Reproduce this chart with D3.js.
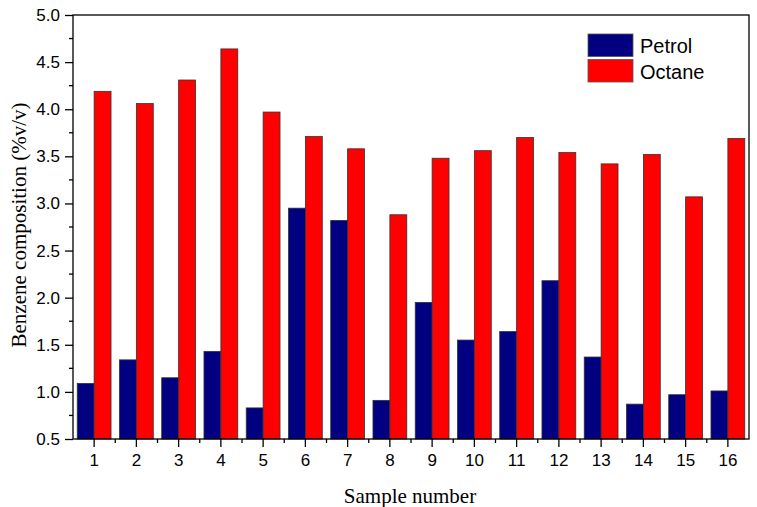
<!DOCTYPE html>
<html>
<head>
<meta charset="utf-8">
<script src="https://cdn.jsdelivr.net/npm/d3@7"></script>
<style>
body { margin: 0; background: #fff; }
</style>
</head>
<body>
<svg id="chart" width="757" height="507"></svg>
<script>
var samples = ["1","2","3","4","5","6","7","8","9","10","11","12","13","14","15","16"];
var petrol = [1.09, 1.34, 1.15, 1.43, 0.83, 2.95, 2.82, 0.91, 1.95, 1.55, 1.64, 2.18, 1.37, 0.87, 0.97, 1.01];
var octane = [4.19, 4.06, 4.31, 4.64, 3.97, 3.71, 3.58, 2.88, 3.48, 3.56, 3.70, 3.54, 3.42, 3.52, 3.07, 3.69];
var series = ["Petrol", "Octane"];
var colors = ["#000080", "#ff0000"];
var yTicks = [0.5, 1.0, 1.5, 2.0, 2.5, 3.0, 3.5, 4.0, 4.5, 5.0];

var svg = d3.select("#chart");
var plotL = 73, plotR = 749, plotT = 15, plotB = 439;

var x = d3.scaleBand().domain(samples).range([plotL, plotR]).paddingInner(0.2).paddingOuter(0.1);
var x1 = d3.scaleBand().domain(series).range([0, x.bandwidth()]);
var y = d3.scaleLinear().domain([0.5, 5.0]).range([plotB, plotT]);
var xOuter = d3.scaleBand().domain(samples).range([plotL, plotR]);

var sansFont = "Liberation Sans, Arial, sans-serif";
var serifFont = "Liberation Serif, Times New Roman, serif";

// bars
var data = [petrol, octane];
data.forEach(function(vals, s){
  svg.selectAll(".bar" + s).data(vals).enter().append("rect")
    .attr("x", function(d, i){ return x(samples[i]) + x1(series[s]); })
    .attr("y", function(d){ return y(d); })
    .attr("width", x1.bandwidth())
    .attr("height", function(d){ return y(0.5) - y(d); })
    .style("fill", colors[s])
    .style("stroke", "#333")
    .style("stroke-width", 0.8);
});

// frame
svg.append("rect").attr("x", plotL).attr("y", plotT).attr("width", plotR - plotL).attr("height", plotB - plotT)
  .style("fill", "none").style("stroke", "#000").style("stroke-width", 1.3);

// y axis
var yAxis = svg.append("g").attr("transform", "translate(" + plotL + ",0)")
  .call(d3.axisLeft(y).tickValues(yTicks).tickFormat(d3.format(".1f")).tickSize(8).tickPadding(5));
yAxis.select(".domain").remove();
yAxis.selectAll("text").style("font-family", sansFont).style("font-size", "17px").style("fill", "#000");
yAxis.selectAll("line").style("stroke-width", 1.3);
var yMinor = d3.range(0.75, 5.0, 0.5);
svg.selectAll(".yminor").data(yMinor).enter().append("line")
  .attr("x1", plotL - 4).attr("x2", plotL).attr("y1", function(d){ return y(d); }).attr("y2", function(d){ return y(d); })
  .style("stroke", "#000").style("stroke-width", 1.3);

// x axis
var xAxis = svg.append("g").attr("transform", "translate(0," + plotB + ")")
  .call(d3.axisBottom(xOuter).tickSize(8).tickPadding(7));
xAxis.select(".domain").remove();
xAxis.selectAll("text").style("font-family", sansFont).style("font-size", "17px").style("fill", "#000");
xAxis.selectAll("line").style("stroke-width", 1.3);
svg.selectAll(".xminor").data(samples.slice(1)).enter().append("line")
  .attr("x1", function(d){ return xOuter(d); }).attr("x2", function(d){ return xOuter(d); })
  .attr("y1", plotB).attr("y2", plotB + 4)
  .style("stroke", "#000").style("stroke-width", 1.3);

// titles
svg.append("text").attr("x", 410).attr("y", 503).attr("text-anchor", "middle")
  .text("Sample number").style("font-family", serifFont).style("font-size", "21px");
svg.append("text").attr("transform", "translate(26,225) rotate(-90)").attr("text-anchor", "middle")
  .text("Benzene composition (%v/v)").style("font-family", serifFont).style("font-size", "21px");

// legend
series.forEach(function(s, i){
  svg.append("rect").attr("x", 588).attr("y", 34 + i * 25.5).attr("width", 45).attr("height", 22.5)
    .style("fill", colors[i]).style("stroke", "#555").style("stroke-width", 0.8);
  svg.append("text").attr("x", 640).attr("y", 53 + i * 25.5)
    .text(s).style("font-family", sansFont).style("font-size", "20px");
});
</script>
</body>
</html>
